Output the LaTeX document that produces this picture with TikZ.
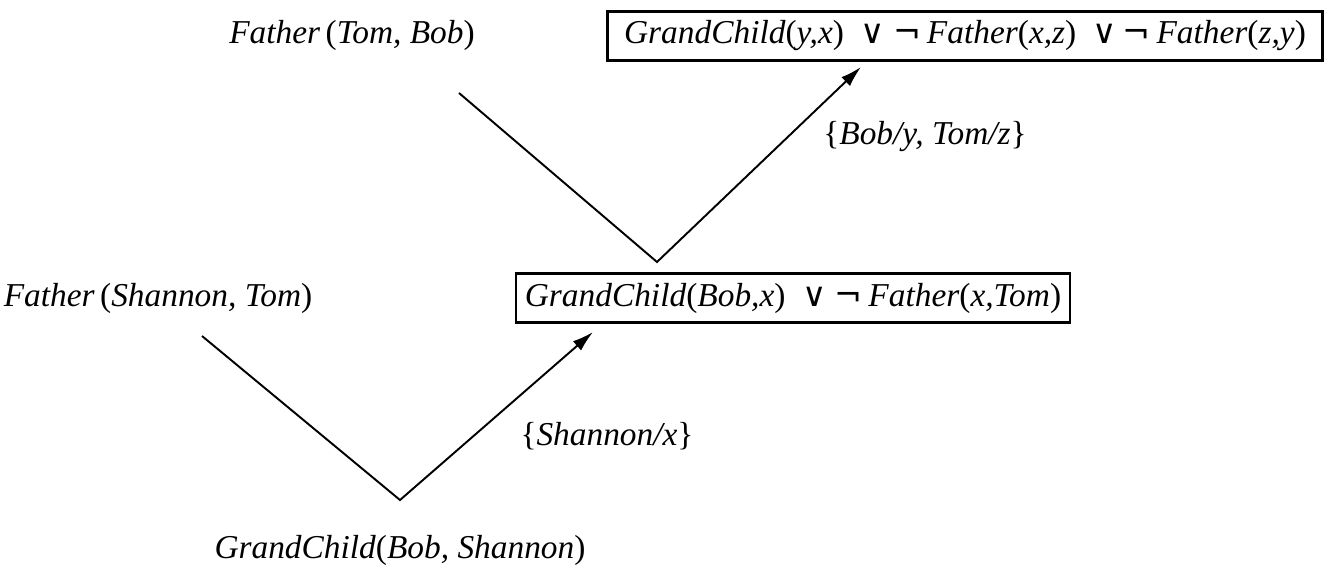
\documentclass[tikz,border=0pt]{standalone}
\usepackage{fontspec}
\setmainfont{Liberation Serif}
\newfontfamily\symfont{DejaVu Sans}
\usetikzlibrary{arrows.meta}
\newcommand{\orsym}{{\symfont\upshape ∨}}
\newcommand{\negsym}{{\symfont\upshape ¬}}
\newcommand{\lp}{\textup{(}}
\newcommand{\rp}{\textup{)}}
\tikzset{
  clause/.style={draw, line width=1.3pt, minimum height=0.98cm, inner xsep=0pt},
  link/.style={line width=1.1pt},
  tip/.style={-{Latex[length=12pt,width=7pt]}}
}

\begin{document}
\begin{tikzpicture}[x=0.02cm,y=-0.02cm,font=\fontsize{19}{22}\selectfont\itshape]
\useasboundingbox (0,0) rectangle (1343,574);
% Klauseln
\node (ftb) at (352,35) {Father\,\lp Tom, Bob\rp};
\node[clause, minimum width=14.3cm] (top) at (965,36) {GrandChild\lp y,x\rp\ \ \orsym\ \negsym\,Father\lp x,z\rp\ \ \orsym\,\negsym\,Father\lp z,y\rp};
\node (fst) at (158,298) {Father\,\lp Shannon, Tom\rp};
\node[clause, minimum width=11.08cm] (mid) at (793,298) {GrandChild\lp Bob,x\rp\ \ \orsym\ \negsym\,Father\lp x,Tom\rp};
\node (gbs) at (400,550) {GrandChild\lp Bob, Shannon\rp};
% Substitutionen
\node (sub1) at (925,137) {\textup{\{}Bob/y, Tom/z\textup{\}}};
\node (sub2) at (607,436) {\textup{\{}Shannon/x\textup{\}}};
% Resolutionsschritte
\coordinate (s1) at (459,93);
\coordinate (v1) at (657,262);
\coordinate (t1) at (861,67);
\coordinate (s2) at (202,336);
\coordinate (v2) at (400,500);
\coordinate (t2) at (593,332);
\draw[link,tip] (s1) -- (v1) -- (t1);
\draw[link,tip] (s2) -- (v2) -- (t2);
\end{tikzpicture}
\end{document}
